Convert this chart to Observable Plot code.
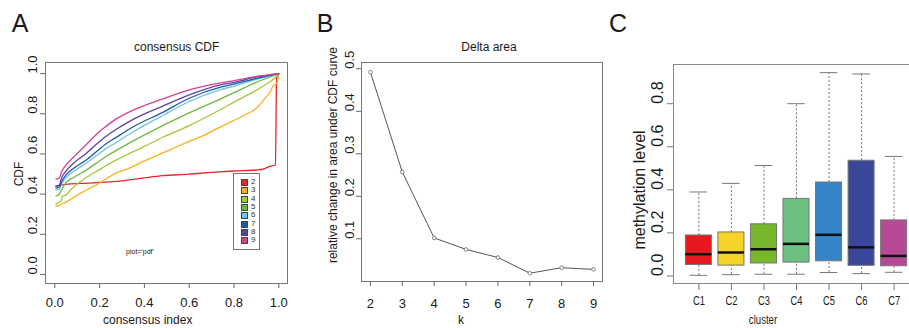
<!DOCTYPE html>
<html><head><meta charset="utf-8">
<script src="https://cdn.jsdelivr.net/npm/d3@7"></script>
<script src="https://cdn.jsdelivr.net/npm/@observablehq/plot@0.6"></script>
<style>
body{margin:0;background:#fff;}
#root{position:relative;width:909px;height:328px;overflow:hidden;font-family:"Liberation Sans",Arial,sans-serif;color:#1a1a1a;background:#fff;}
.panel{position:absolute;top:0;}
.t{position:absolute;white-space:nowrap;line-height:1;transform:translate(-50%,-50%);}
.r{transform:translate(-50%,-50%) rotate(-90deg);}
.narrow{transform:translate(-50%,-50%) scaleX(0.8);}
#legend{position:absolute;left:233px;top:173px;width:25px;height:75px;border:1px solid #777;background:#fff;}
.li{position:absolute;left:0;height:8px;font-size:8px;line-height:8px;color:#333;}
.sw{position:absolute;left:7px;top:1px;width:5px;height:5px;border:0.5px solid #444;}
.ll{position:absolute;left:17px;top:0;}
</style></head><body><div id="root"></div>
<script>
// ---- Panel A: consensus CDF ----
const cdfK = [2,3,4,5,6,7,8,9];
const cdfColors = ["#E8262B","#F9B121","#A3C93A","#6DB843","#6BC6DE","#2357A8","#5A43A0","#D6408F"];
const cdf2 = [[0.005,0.44],[0.03,0.445],[0.06,0.45],[0.15,0.455],[0.226,0.46],[0.3,0.466],[0.4,0.481],[0.482,0.492],[0.6,0.499],[0.7,0.508],[0.8,0.515],[0.9,0.52],[0.93,0.524],[0.96,0.538],[0.985,0.545],[0.99,0.975],[1,1]];
const cdf3 = [[0.005,0.34],[0.02,0.343],[0.03,0.35],[0.05,0.36],[0.1,0.395],[0.137,0.418],[0.2,0.455],[0.226,0.474],[0.271,0.503],[0.33,0.528],[0.4,0.565],[0.482,0.605],[0.6,0.662],[0.65,0.685],[0.74,0.735],[0.784,0.758],[0.85,0.795],[0.896,0.824],[0.92,0.85],[0.94,0.88],[0.96,0.905],[0.975,0.94],[0.99,0.95],[1,1]];
const cdf4 = [[0.005,0.35],[0.02,0.36],[0.03,0.37],[0.035,0.39],[0.05,0.395],[0.07,0.42],[0.1,0.45],[0.137,0.48],[0.2,0.522],[0.226,0.54],[0.271,0.568],[0.33,0.6],[0.405,0.64],[0.482,0.683],[0.6,0.741],[0.74,0.821],[0.8,0.858],[0.896,0.915],[0.95,0.952],[0.98,0.975],[1,1]];
const cdf5 = [[0.005,0.39],[0.02,0.4],[0.03,0.42],[0.04,0.44],[0.048,0.455],[0.08,0.48],[0.137,0.517],[0.2,0.565],[0.226,0.585],[0.271,0.615],[0.35,0.665],[0.482,0.741],[0.6,0.804],[0.74,0.874],[0.8,0.905],[0.896,0.955],[0.95,0.978],[1,1]];
const cdf6 = [[0.005,0.42],[0.02,0.425],[0.03,0.45],[0.048,0.48],[0.08,0.51],[0.137,0.551],[0.2,0.603],[0.226,0.625],[0.271,0.655],[0.35,0.71],[0.482,0.791],[0.6,0.861],[0.74,0.92],[0.8,0.938],[0.896,0.97],[0.95,0.985],[1,1]];
const cdf7 = [[0.005,0.43],[0.02,0.435],[0.03,0.46],[0.048,0.493],[0.08,0.525],[0.137,0.567],[0.2,0.625],[0.226,0.648],[0.271,0.68],[0.35,0.735],[0.482,0.807],[0.6,0.877],[0.74,0.932],[0.8,0.947],[0.896,0.975],[0.95,0.988],[1,1]];
const cdf8 = [[0.005,0.44],[0.02,0.445],[0.03,0.48],[0.048,0.512],[0.08,0.55],[0.137,0.6],[0.2,0.662],[0.226,0.685],[0.271,0.72],[0.35,0.772],[0.482,0.838],[0.6,0.894],[0.74,0.944],[0.8,0.956],[0.896,0.982],[1,1]];
const cdf9 = [[0.005,0.475],[0.02,0.48],[0.03,0.51],[0.04,0.53],[0.048,0.542],[0.08,0.58],[0.137,0.642],[0.2,0.712],[0.226,0.735],[0.271,0.772],[0.35,0.818],[0.482,0.874],[0.6,0.919],[0.74,0.954],[0.8,0.965],[0.896,0.985],[1,1]];
const cdfTicks = [0,0.2,0.4,0.6,0.8,1.0];

// ---- Panel B: Delta area ----
const deltaK = [2,3,4,5,6,7,8,9];
const deltaArea = [0.492,0.257,0.102,0.075,0.056,0.019,0.032,0.028];
const deltaYTicks = [0.1,0.2,0.3,0.4,0.5];

// ---- Panel C: methylation boxplots ----
const clusters = ["C1","C2","C3","C4","C5","C6","C7"];
const whiskLow = [0.003,0.006,0.008,0.008,0.016,0.011,0.017];
const q1 = [0.051,0.048,0.058,0.062,0.068,0.047,0.045];
const med = [0.101,0.109,0.124,0.149,0.191,0.133,0.093];
const q3 = [0.188,0.202,0.240,0.358,0.434,0.535,0.258];
const whiskHigh = [0.390,0.430,0.513,0.800,0.944,0.938,0.555];
const boxColors = ["#E8191E","#F5D327","#76B82A","#6CC080","#3585C6","#3A4699","#B64A97"];
const methTicks = [0,0.2,0.4,0.6,0.8];

const root = document.getElementById("root");
const FONT = '"Liberation Sans",Arial,sans-serif';
const f1 = d3.format(".1f");

function place(el, left){ el.classList.add("panel"); el.style.left = left + "px"; root.appendChild(el); }
function label(text, x, y, size, rot, extra){
  const d = document.createElement("div");
  d.className = "t" + (rot ? " r" : "") + (extra ? " " + extra : "");
  d.textContent = text; d.style.left = x + "px"; d.style.top = y + "px"; d.style.fontSize = size + "px";
  root.appendChild(d);
}

// Panel A
const cdfSeries = [cdf2,cdf3,cdf4,cdf5,cdf6,cdf7,cdf8,cdf9];
const cdfData = cdfK.flatMap((k,i) => cdfSeries[i].map(([x,y]) => ({k, x, y})));
const plotA = Plot.plot({
  width: 300, height: 328, marginLeft: 45, marginRight: 13, marginTop: 62, marginBottom: 45,
  x: {domain: [-0.0415, 1.0388]}, y: {domain: [-0.045, 1.055]},
  color: {type: "ordinal", domain: cdfK, range: cdfColors},
  style: {fontFamily: FONT, color: "#1a1a1a", background: "transparent", overflow: "visible"},
  marks: [
    Plot.frame({stroke: "#777"}),
    Plot.line(cdfData, {x: "x", y: "y", z: "k", stroke: "k", strokeWidth: 1.3, curve: "monotone-x"}),
    Plot.axisX({ticks: cdfTicks, tickFormat: f1, tickSize: 5, tickPadding: 9, fontSize: 13, label: null, stroke: "#666"}),
    Plot.axisY({ticks: cdfTicks, tickFormat: () => "", tickSize: 5, label: null, stroke: "#666"}),
    Plot.text(cdfTicks, {y: d => d, frameAnchor: "left", dx: -13, rotate: -90, text: d => f1(d), fontSize: 13, lineAnchor: "middle", fill: "#1a1a1a"})
  ]
});
place(plotA, 0);

// Panel B
const deltaData = deltaK.map((k,i) => ({k, v: deltaArea[i]}));
const plotB = Plot.plot({
  width: 310, height: 328, marginLeft: 61, marginRight: 8, marginTop: 62, marginBottom: 47,
  x: {domain: [1.72, 9.28]}, y: {domain: [-0.0005, 0.5148]},
  style: {fontFamily: FONT, color: "#1a1a1a", background: "transparent", overflow: "visible"},
  marks: [
    Plot.frame({stroke: "#777"}),
    Plot.line(deltaData, {x: "k", y: "v", stroke: "#555", strokeWidth: 1}),
    Plot.dot(deltaData, {x: "k", y: "v", r: 1.8, stroke: "#666", fill: "#fff", strokeWidth: 0.8}),
    Plot.axisX({ticks: deltaK, tickFormat: d => String(d), tickSize: 5, tickPadding: 12, fontSize: 13, label: null, stroke: "#666"}),
    Plot.axisY({ticks: deltaYTicks, tickFormat: () => "", tickSize: 5, label: null, stroke: "#666"}),
    Plot.text(deltaYTicks, {y: d => d, frameAnchor: "left", dx: -12, rotate: -90, text: d => f1(d), fontSize: 13, lineAnchor: "middle", fill: "#1a1a1a"})
  ]
});
place(plotB, 300);

// Panel C
const boxData = clusters.map((c,i) => ({i: i+1, c, lo: whiskLow[i], q1: q1[i], med: med[i], q3: q3[i], hi: whiskHigh[i], col: boxColors[i]}));
const plotC = Plot.plot({
  width: 309, height: 328, marginLeft: 63, marginRight: 0, marginTop: 64, marginBottom: 45,
  x: {domain: [0.22, 7.78]}, y: {domain: [-0.035, 0.982]},
  style: {fontFamily: FONT, color: "#1a1a1a", background: "transparent"},
  marks: [
    Plot.frame({stroke: "#888"}),
    Plot.ruleX(boxData, {x: "i", y1: "q3", y2: "hi", stroke: "#777", strokeDasharray: "2,2"}),
    Plot.ruleX(boxData, {x: "i", y1: "lo", y2: "q1", stroke: "#777", strokeDasharray: "2,2"}),
    Plot.ruleY(boxData, {y: "hi", x1: d => d.i - 0.27, x2: d => d.i + 0.27, stroke: "#777"}),
    Plot.ruleY(boxData, {y: "lo", x1: d => d.i - 0.27, x2: d => d.i + 0.27, stroke: "#777"}),
    Plot.rect(boxData, {x1: d => d.i - 0.4, x2: d => d.i + 0.4, y1: "q1", y2: "q3", fill: "col", stroke: "#777", strokeWidth: 1}),
    Plot.ruleY(boxData, {y: "med", x1: d => d.i - 0.4, x2: d => d.i + 0.4, stroke: "#111", strokeWidth: 2.5}),
    Plot.axisX({ticks: clusters.map((c,i) => i+1), tickFormat: d => clusters[d-1], tickSize: 7, tickPadding: 5, fontSize: 13, label: null, stroke: "#777"}),
    Plot.axisY({ticks: methTicks, tickFormat: () => "", tickSize: 6, label: null, stroke: "#777"}),
    Plot.text(methTicks, {y: d => d, frameAnchor: "left", dx: -16, rotate: -90, text: d => f1(d), fontSize: 16, lineAnchor: "middle", fill: "#1a1a1a"})
  ]
});
place(plotC, 610);
// condense the cluster tick labels horizontally, as in the reference
plotC.querySelectorAll('g[aria-label="x-axis tick label"] text').forEach(t => {
  const tr = t.getAttribute("transform") || "";
  t.setAttribute("transform", tr + " scale(0.72,1)");
});

// Titles, panel letters, axis labels
label("A", 20, 23, 25);
label("B", 325, 23, 25);
label("C", 618, 23, 25);
label("consensus CDF", 176.7, 47, 12);
label("Delta area", 489, 47, 12);
label("consensus index", 147.7, 320, 12);
label("CDF", 18.5, 174, 12, true);
label("relative change in area under CDF curve", 333, 155, 12, true);
label("k", 461, 320, 12);
label("methylation level", 640, 190, 16, true);
label("cluster", 763, 320, 12, false, "narrow");
label("plot='pdf'", 140, 251, 7);

// Legend for panel A
const leg = document.createElement("div"); leg.id = "legend";
cdfK.forEach((k,i) => {
  const row = document.createElement("div"); row.className = "li"; row.style.top = (4 + i*8.3) + "px";
  const sw = document.createElement("div"); sw.className = "sw"; sw.style.background = cdfColors[i];
  const ll = document.createElement("div"); ll.className = "ll"; ll.textContent = String(k);
  row.appendChild(sw); row.appendChild(ll); leg.appendChild(row);
});
root.appendChild(leg);
</script></body></html>
